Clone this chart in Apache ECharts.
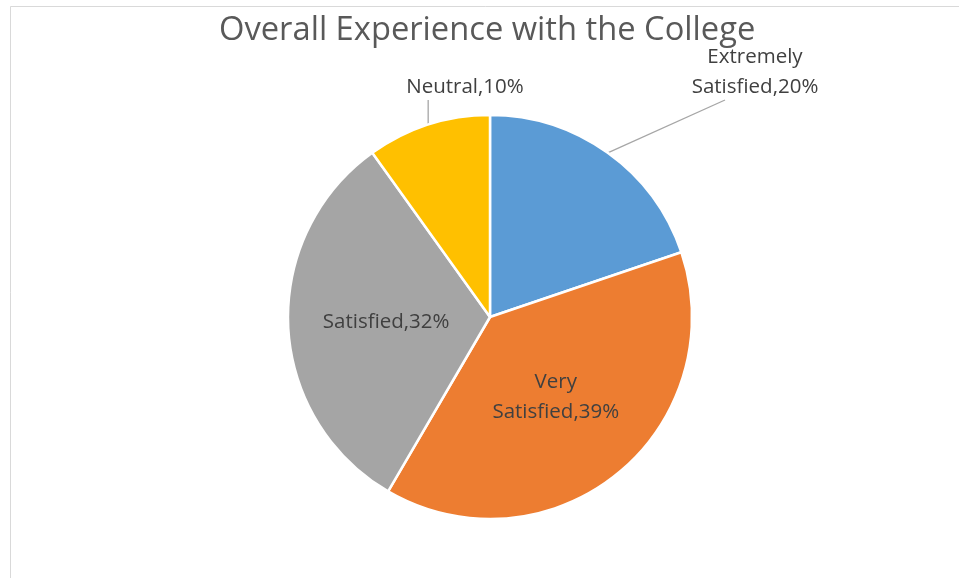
<!DOCTYPE html>
<html>
<head>
<meta charset="utf-8">
<script src="https://cdn.jsdelivr.net/npm/echarts@6/dist/echarts.min.js"></script>
<style>
html,body{margin:0;padding:0;background:#fff;}
#c{width:959px;height:578px;}
</style>
</head>
<body>
<div id="c"></div>
<script>
var categories = ['Extremely Satisfied', 'Very Satisfied', 'Satisfied', 'Neutral'];
var labelNames = ['Extremely\nSatisfied', 'Very\nSatisfied', 'Satisfied', 'Neutral'];
var values = [20, 39, 32, 10];
var colors = ['#5B9BD5', '#ED7D31', '#A5A5A5', '#FFC000'];
var outsideItems = [true, false, false, true];

var FONT = 'Open Sans';
var chart = echarts.init(document.getElementById('c'));

var data = categories.map(function (c, i) {
  return {
    name: c,
    value: values[i],
    itemStyle: { color: colors[i] },
    label: { position: outsideItems[i] ? 'outside' : 'inside' },
    labelLine: { show: outsideItems[i] }
  };
});

chart.setOption({
  backgroundColor: '#fff',
  animation: false,
  graphic: [{
    type: 'rect',
    shape: { x: 10.5, y: 6.5, width: 960, height: 600 },
    style: { fill: 'none', stroke: '#d9d9d9', lineWidth: 1 },
    silent: true
  }],
  title: {
    text: 'Overall Experience with the College',
    left: 219,
    top: 14,
    padding: 0,
    textStyle: { fontFamily: FONT, fontSize: 32.7, fontWeight: 'normal', color: '#595959' }
  },
  series: [{
    type: 'pie',
    center: [490, 317],
    radius: 202,
    startAngle: 90,
    clockwise: true,
    data: data,
    itemStyle: { borderColor: '#fff', borderWidth: 2.5 },
    label: {
      show: true,
      fontFamily: FONT,
      fontSize: 20.5,
      color: '#404040',
      lineHeight: 30,
      formatter: function (p) {
        return labelNames[p.dataIndex] + ',' + p.value + '%';
      }
    },
    labelLine: { show: true, lineStyle: { color: '#a6a6a6', width: 1.3 }, length: 20, length2: 0 },
    labelLayout: function (p) {
      var start = p.labelLinePoints ? p.labelLinePoints[0] : null;
      if (p.dataIndex === 0) {
        return {
          x: 755, y: 72, align: 'center', verticalAlign: 'middle',
          labelLinePoints: start ? [start, [725, 100]] : undefined
        };
      }
      if (p.dataIndex === 3) {
        return {
          x: 465, y: 87, align: 'center', verticalAlign: 'middle',
          labelLinePoints: start ? [start, [start[0], 100]] : undefined
        };
      }
    }
  }]
});
</script>
</body>
</html>
